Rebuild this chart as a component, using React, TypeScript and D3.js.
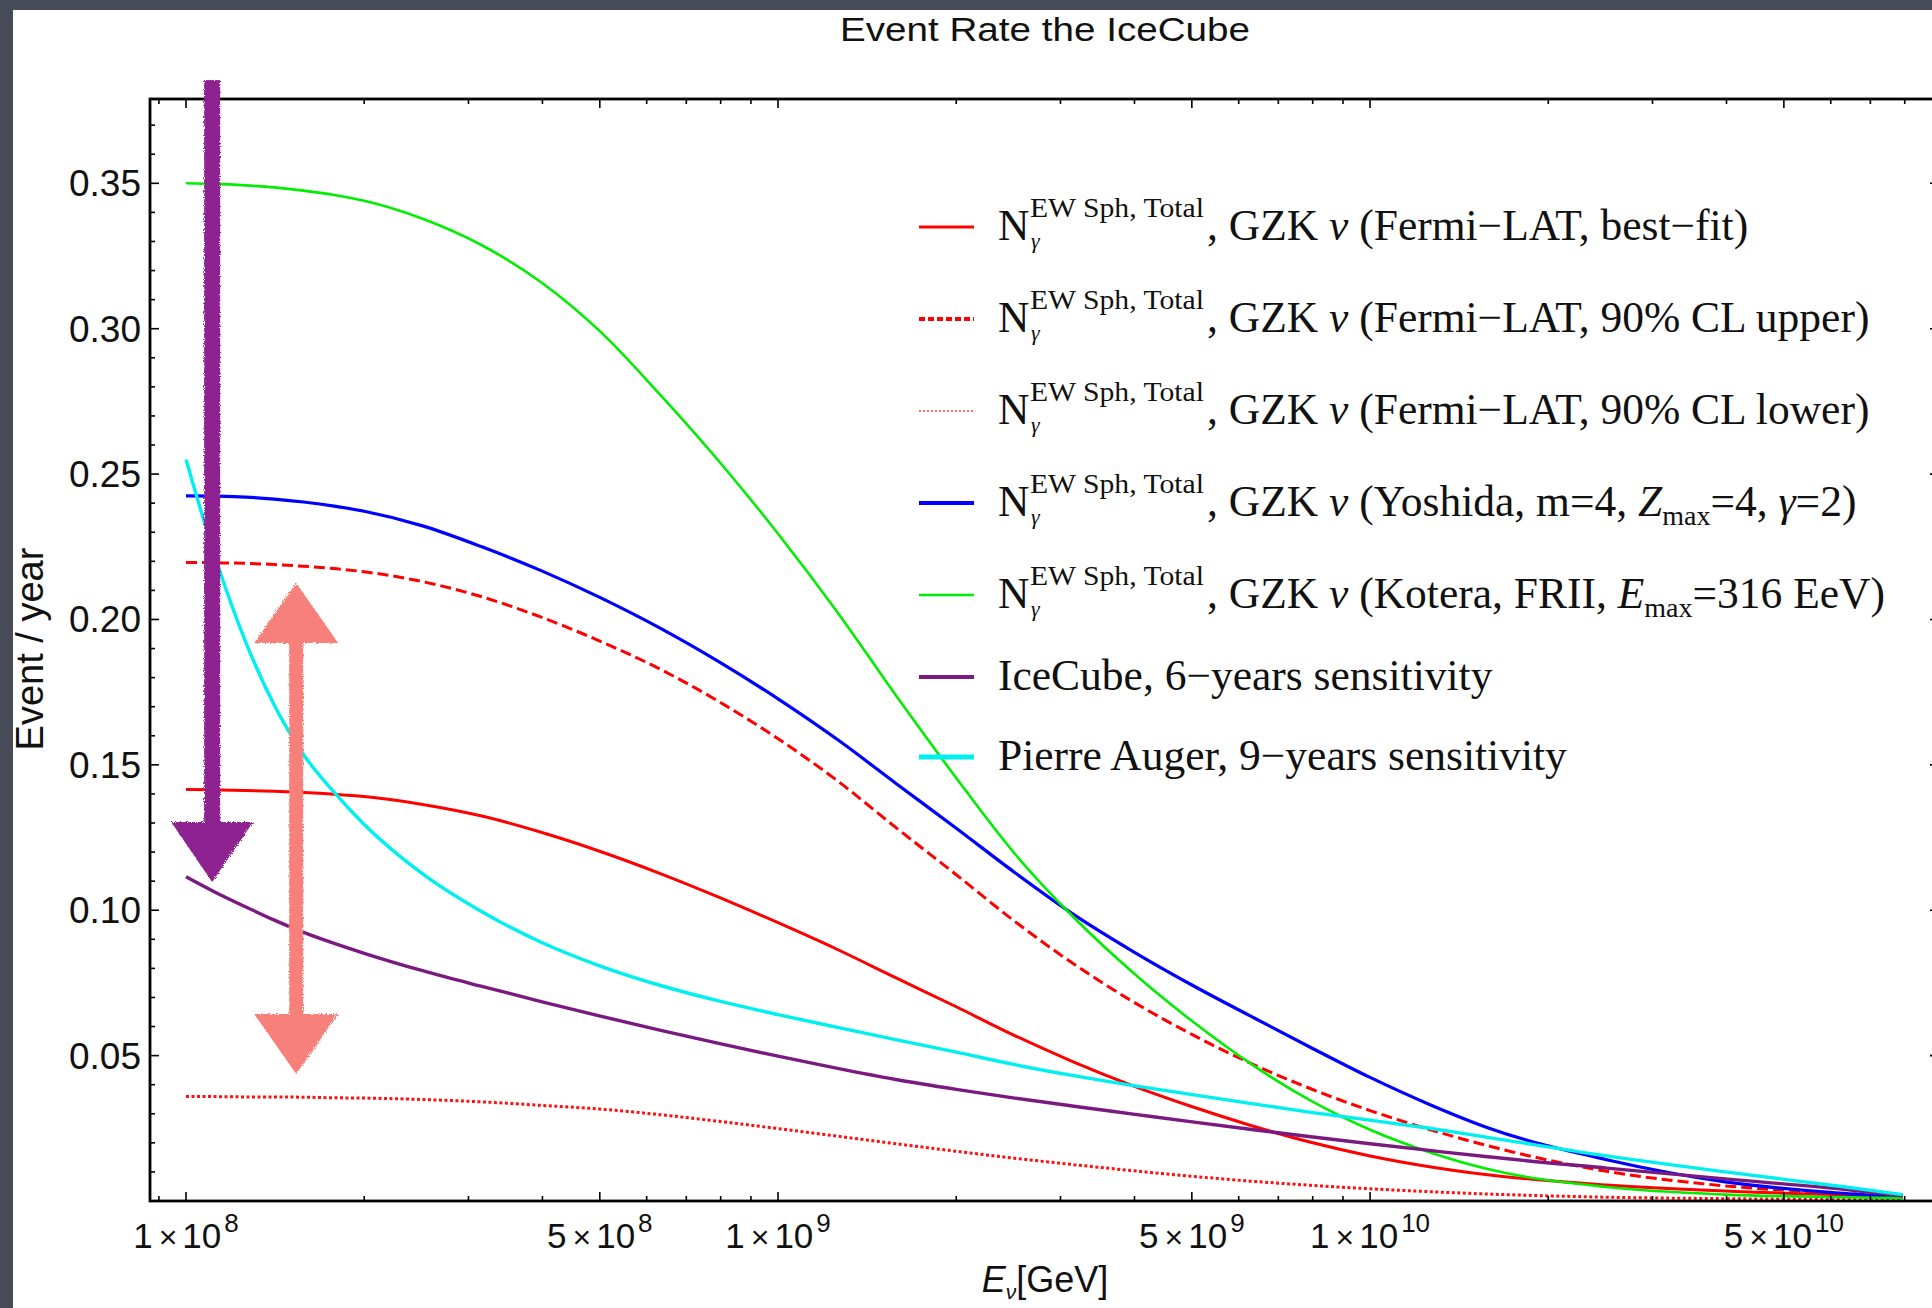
import React from 'react';
import * as d3 from 'd3';

const W = 1932;
const H = 1308;
const FRAME = { left: 150, right: 1939, top: 99, bottom: 1201 };

// Neutrino energy grid (GeV)
const energyGeV = [
  1.0e8, 1.12e8, 1.26e8, 1.41e8, 1.58e8, 1.78e8, 2.0e8, 2.51e8, 3.16e8, 3.98e8,
  5.01e8, 6.31e8, 7.94e8, 1.0e9, 1.26e9, 1.58e9, 2.0e9, 2.51e9, 3.16e9, 3.98e9,
  5.01e9, 6.31e9, 7.94e9, 1.0e10, 1.26e10, 1.58e10, 2.51e10, 3.98e10, 6.31e10, 7.94e10,
];

// Event / year for each series
const fermiBest = [
  0.1415, 0.1414, 0.1412, 0.1409, 0.1405, 0.1399, 0.1391, 0.1364, 0.1324, 0.1268,
  0.1202, 0.1127, 0.1045, 0.0957, 0.0865, 0.0768, 0.0668, 0.0569, 0.0478, 0.0396,
  0.0324, 0.0259, 0.0202, 0.0155, 0.0118, 0.009, 0.0055, 0.0034, 0.0021, 0.0015,
];
const fermiUpper = [
  0.2196, 0.2195, 0.2193, 0.2189, 0.2183, 0.2175, 0.2164, 0.213, 0.2078, 0.2008,
  0.1925, 0.183, 0.1718, 0.159, 0.1445, 0.1285, 0.1122, 0.0962, 0.0815, 0.0685,
  0.0572, 0.0472, 0.0386, 0.0311, 0.0246, 0.019, 0.0102, 0.0052, 0.0026, 0.0013,
];
const fermiLower = [
  0.0359, 0.0359, 0.0358, 0.0358, 0.0357, 0.0355, 0.0354, 0.0349, 0.0341, 0.0329,
  0.0316, 0.0297, 0.0274, 0.0249, 0.0223, 0.0197, 0.0171, 0.0147, 0.0125, 0.0104,
  0.0085, 0.0068, 0.0054, 0.0042, 0.0032, 0.0024, 0.0013, 0.0008, 0.0005, 0.0004,
];
const yoshida = [
  0.2425, 0.2424, 0.2421, 0.2414, 0.2404, 0.239, 0.2372, 0.2322, 0.225, 0.2168,
  0.2075, 0.1971, 0.1855, 0.1727, 0.1587, 0.1437, 0.1282, 0.113, 0.0985, 0.0858,
  0.0742, 0.0634, 0.0528, 0.0425, 0.0332, 0.0252, 0.0142, 0.0066, 0.0026, 0.0012,
];
const kotera = [
  0.35, 0.3498, 0.3493, 0.3486, 0.3475, 0.346, 0.344, 0.3378, 0.3287, 0.316,
  0.299, 0.2775, 0.2545, 0.2295, 0.2025, 0.174, 0.1455, 0.1195, 0.0975, 0.0785,
  0.0618, 0.047, 0.0345, 0.0245, 0.0168, 0.011, 0.0048, 0.0022, 0.0013, 0.001,
];
const icecubeSens = [
  0.1115, 0.1062, 0.1012, 0.0966, 0.0924, 0.0886, 0.0852, 0.0792, 0.0738, 0.0686,
  0.0636, 0.0588, 0.0542, 0.0498, 0.0456, 0.0418, 0.0384, 0.0354, 0.0326, 0.0299,
  0.0272, 0.0246, 0.0221, 0.0197, 0.0174, 0.0152, 0.0113, 0.0076, 0.004, 0.0018,
];
const augerSens = [
  0.255, 0.2215, 0.1925, 0.1705, 0.1535, 0.1405, 0.1295, 0.1125, 0.0995, 0.089,
  0.0808, 0.0742, 0.0688, 0.0641, 0.0597, 0.0555, 0.0512, 0.0469, 0.0431, 0.0397,
  0.0366, 0.0335, 0.0305, 0.0278, 0.025, 0.0219, 0.0155, 0.01, 0.0049, 0.0022,
];

// Axis ticks
const xMajorTicks = [1e8, 5e8, 1e9, 5e9, 1e10, 5e10];
const xTickMantissa = ['1', '5', '1', '5', '1', '5'];
const xTickExponent = ['8', '8', '9', '9', '10', '10'];
const yMajorTicks = [0.05, 0.1, 0.15, 0.2, 0.25, 0.3, 0.35];
const yTickLabels = ['0.05', '0.10', '0.15', '0.20', '0.25', '0.30', '0.35'];

// Hand-drawn annotation arrows (energy, event/year)
const purpleArrowE = 1.107e8;
const purpleArrowFrom = 0.3855;
const purpleArrowTo = 0.1097;
const salmonArrowE = 1.535e8;
const salmonArrowTop = 0.2125;
const salmonArrowBottom = 0.0437;

const RED = '#ff0000';
const series = [
  { values: fermiBest, color: RED, width: 3, dash: undefined as string | undefined },
  { values: fermiUpper, color: RED, width: 3, dash: '11,5' },
  { values: fermiLower, color: '#ff1010', width: 3, dash: '3,2.5' },
  { values: yoshida, color: '#0000ff', width: 3.2, dash: undefined },
  { values: kotera, color: '#00ee00', width: 2.6, dash: undefined },
  { values: icecubeSens, color: '#7a1a80', width: 3.4, dash: undefined },
  { values: augerSens, color: '#00f0f0', width: 3.4, dash: undefined },
];

type Seg = { t: string; it?: boolean; sub?: boolean };
const legendSuffix: Seg[][] = [
  [{ t: ', GZK ' }, { t: 'ν', it: true }, { t: ' (Fermi−LAT, best−fit)' }],
  [{ t: ', GZK ' }, { t: 'ν', it: true }, { t: ' (Fermi−LAT, 90% CL upper)' }],
  [{ t: ', GZK ' }, { t: 'ν', it: true }, { t: ' (Fermi−LAT, 90% CL lower)' }],
  [
    { t: ', GZK ' }, { t: 'ν', it: true }, { t: ' (Yoshida, m=4, ' }, { t: 'Z', it: true },
    { t: 'max', sub: true }, { t: '=4, ' }, { t: 'γ', it: true }, { t: '=2)' },
  ],
  [
    { t: ', GZK ' }, { t: 'ν', it: true }, { t: ' (Kotera, FRII, ' }, { t: 'E', it: true },
    { t: 'max', sub: true }, { t: '=316 EeV)' },
  ],
];
const legendPlain = ['IceCube, 6−years sensitivity', 'Pierre Auger, 9−years sensitivity'];
const legendRowsY = [227, 319, 411, 503, 595, 677, 757];
const legendStyles = [
  { color: RED, width: 3, dash: undefined as string | undefined },
  { color: RED, width: 4, dash: '6,3' },
  { color: '#ff6a6a', width: 2, dash: '2,2' },
  { color: '#0000ff', width: 4, dash: undefined },
  { color: '#00ee00', width: 2.5, dash: undefined },
  { color: '#7a1a80', width: 4, dash: undefined },
  { color: '#00f0f0', width: 5, dash: undefined },
];

const SANS = 'Liberation Sans, Arial, Helvetica, sans-serif';
const SERIF = 'Liberation Serif, Times New Roman, serif';

export default function App() {
  const x = d3
    .scaleLog()
    .domain([Math.pow(10, 7.9392), Math.pow(10, 10.961)])
    .range([FRAME.left, FRAME.right]);
  const y = d3.scaleLinear().domain([0, 0.379]).range([FRAME.bottom, FRAME.top]);

  const line = (vals: number[]) =>
    d3
      .line<number>()
      .x((_, i) => x(energyGeV[i]))
      .y((v) => y(v))
      .curve(d3.curveMonotoneX)(vals) || '';

  // minor x ticks
  const [d0, d1] = x.domain();
  const xMinor: number[] = [];
  for (let p = 7; p <= 11; p++) {
    for (let k = 1; k <= 9; k++) {
      const v = k * Math.pow(10, p);
      if (v >= d0 && v <= d1 && !xMajorTicks.some((m) => Math.abs(m - v) / v < 1e-6)) xMinor.push(v);
    }
  }
  const yMinor: number[] = [];
  for (let i = 1; i <= 37; i++) {
    const v = i / 100;
    if (i % 5 !== 0) yMinor.push(v);
  }

  const MAJ = 9;
  const MIN = 5;

  const renderSegs = (segs: Seg[]) => {
    let inSub = false;
    return segs.map((s, i) => {
      let dy = 0;
      if (s.sub && !inSub) { dy = 9; inSub = true; }
      else if (!s.sub && inSub) { dy = -9; inSub = false; }
      return (
        <tspan key={i} dy={dy || undefined} fontStyle={s.it ? 'italic' : undefined} fontSize={s.sub ? 28 : undefined}>
          {s.t}
        </tspan>
      );
    });
  };

  const arrowHead = (cx: number, baseY: number, tipY: number, half: number) =>
    `M${cx - half},${baseY} L${cx + half},${baseY} L${cx},${tipY} Z`;

  const px = x(purpleArrowE);
  const pTop = y(purpleArrowFrom);
  const pTip = y(purpleArrowTo);
  const sx = x(salmonArrowE);
  const sTop = y(salmonArrowTop);
  const sBot = y(salmonArrowBottom);

  return (
    <svg
      width={W}
      height={H}
      viewBox={`0 0 ${W} ${H}`}
      style={{ position: 'absolute', left: 0, top: 0, display: 'block' }}
    >
      <defs>
        <clipPath id="plotClip">
          <rect x={FRAME.left} y={FRAME.top} width={FRAME.right - FRAME.left} height={FRAME.bottom - FRAME.top} />
        </clipPath>
        <filter id="rough" x="-20%" y="-5%" width="140%" height="110%">
          <feTurbulence type="fractalNoise" baseFrequency="0.9" numOctaves="2" seed="3" result="noise" />
          <feDisplacementMap in="SourceGraphic" in2="noise" scale="4" />
        </filter>
      </defs>

      {/* slide background */}
      <rect x={0} y={0} width={W} height={H} fill="#474b57" />
      <rect x={13} y={10} width={W - 13} height={H - 10} fill="#ffffff" />

      {/* title */}
      <text x={1045} y={41} textAnchor="middle" fontFamily={SANS} fontSize={33} textLength={410} lengthAdjust="spacingAndGlyphs" fill="#111">
        Event Rate the IceCube
      </text>

      {/* curves */}
      <g clipPath="url(#plotClip)">
        {series.map((s, i) => (
          <path
            key={i}
            d={line(s.values)}
            fill="none"
            stroke={s.color}
            strokeWidth={s.width}
            strokeDasharray={s.dash}
            strokeLinejoin="round"
          />
        ))}
      </g>

      {/* frame */}
      <rect
        x={FRAME.left}
        y={FRAME.top}
        width={FRAME.right - FRAME.left}
        height={FRAME.bottom - FRAME.top}
        fill="none"
        stroke="#000"
        strokeWidth={2.8}
      />

      {/* ticks */}
      <g stroke="#000" strokeWidth={1.6}>
        {xMajorTicks.map((v, i) => (
          <g key={'xM' + i}>
            <line x1={x(v)} x2={x(v)} y1={FRAME.bottom} y2={FRAME.bottom - MAJ} />
            <line x1={x(v)} x2={x(v)} y1={FRAME.top} y2={FRAME.top + MAJ} />
          </g>
        ))}
        {xMinor.map((v, i) => (
          <g key={'xm' + i}>
            <line x1={x(v)} x2={x(v)} y1={FRAME.bottom} y2={FRAME.bottom - MIN} />
            <line x1={x(v)} x2={x(v)} y1={FRAME.top} y2={FRAME.top + MIN} />
          </g>
        ))}
        {yMajorTicks.map((v, i) => (
          <g key={'yM' + i}>
            <line x1={FRAME.left} x2={FRAME.left + MAJ} y1={y(v)} y2={y(v)} />
            <line x1={FRAME.right} x2={FRAME.right - MAJ} y1={y(v)} y2={y(v)} />
          </g>
        ))}
        {yMinor.map((v, i) => (
          <g key={'ym' + i}>
            <line x1={FRAME.left} x2={FRAME.left + MIN} y1={y(v)} y2={y(v)} />
            <line x1={FRAME.right} x2={FRAME.right - MIN} y1={y(v)} y2={y(v)} />
          </g>
        ))}
      </g>

      {/* x tick labels */}
      <g fontFamily={SANS} fontSize={35} fill="#111">
        {xMajorTicks.map((v, i) => (
          <text key={i} x={x(v)} y={1248} textAnchor="middle">
            {xTickMantissa[i]}
            <tspan dx={6} fontSize={32}>×</tspan>
            <tspan dx={5}>10</tspan>
            <tspan dx={3} dy={-16} fontSize={26}>{xTickExponent[i]}</tspan>
          </text>
        ))}
      </g>

      {/* y tick labels */}
      <g fontFamily={SANS} fontSize={37} fill="#111">
        {yMajorTicks.map((v, i) => (
          <text key={i} x={141} y={y(v) + 13} textAnchor="end">
            {yTickLabels[i]}
          </text>
        ))}
      </g>

      {/* axis labels */}
      <text x={1045} y={1292} textAnchor="middle" fontFamily={SANS} fontSize={36} fill="#111">
        <tspan fontStyle="italic">E</tspan>
        <tspan dy={7} fontSize={21} fontStyle="italic">ν</tspan>
        <tspan dy={-7}>[GeV]</tspan>
      </text>
      <text
        transform={`translate(43,649) rotate(-90)`}
        textAnchor="middle"
        fontFamily={SANS}
        fontSize={38}
        fill="#111"
      >
        Event / year
      </text>

      {/* legend */}
      <g fontFamily={SERIF} fill="#111">
        {legendRowsY.map((ry, i) => {
          const st = legendStyles[i];
          const base = ry + 13;
          return (
            <g key={i}>
              <line x1={919} x2={974} y1={ry} y2={ry} stroke={st.color} strokeWidth={st.width} strokeDasharray={st.dash} />
              {i < 5 ? (
                <>
                  <text x={998} y={base} fontSize={43.5}>N</text>
                  <text x={1030} y={base - 23} fontSize={28} textLength={174} lengthAdjust="spacingAndGlyphs">
                    EW Sph, Total
                  </text>
                  <text x={1031} y={base + 8} fontSize={22} fontStyle="italic">γ</text>
                  <text x={1207} y={base} fontSize={43.5}>
                    {renderSegs(legendSuffix[i])}
                  </text>
                </>
              ) : (
                <text x={998} y={base} fontSize={43.5}>
                  {legendPlain[i - 5]}
                </text>
              )}
            </g>
          );
        })}
      </g>

      {/* hand-drawn annotation arrows */}
      <g filter="url(#rough)">
        <rect x={px - 8} y={pTop} width={16} height={pTip - 40 - pTop} fill="#8d2390" />
        <path d={arrowHead(px, pTip - 60, pTip, 41)} fill="#8d2390" />
        <rect x={sx - 7} y={sTop + 50} width={14} height={sBot - sTop - 100} fill="#f8807a" />
        <path d={arrowHead(sx, sTop + 60, sTop, 42)} fill="#f8807a" />
        <path d={arrowHead(sx, sBot - 60, sBot, 42)} fill="#f8807a" />
      </g>
    </svg>
  );
}
